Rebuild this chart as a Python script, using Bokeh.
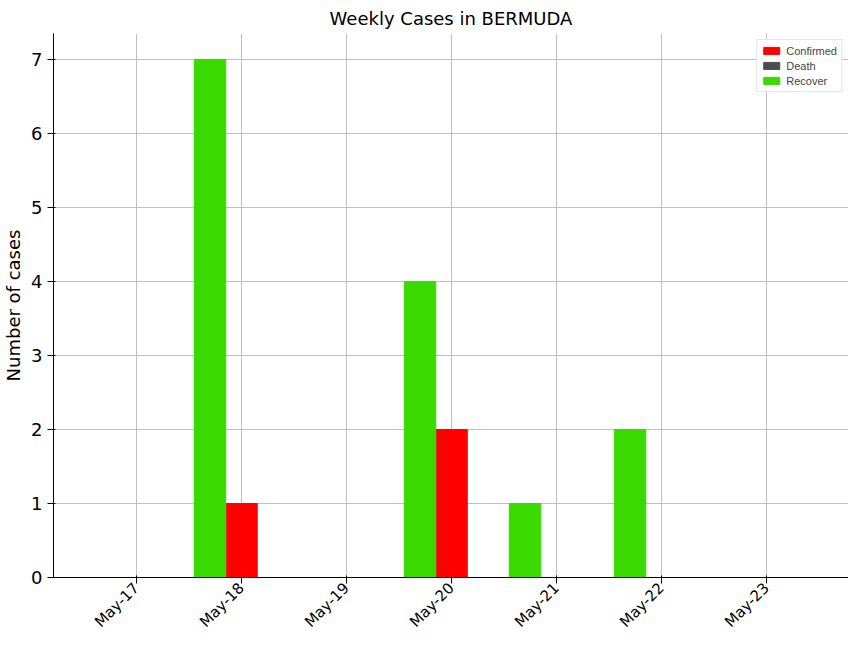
from bokeh.plotting import figure
from bokeh.models import ColumnDataSource, FixedTicker, Range1d
from bokeh.embed import file_html
from bokeh.resources import INLINE

weeks = ["May-17", "May-18", "May-19", "May-20", "May-21", "May-22", "May-23"]
confirmed = [0, 1, 0, 2, 0, 0, 0]
death = [0, 0, 0, 0, 0, 0, 0]
recover = [0, 7, 0, 4, 1, 2, 0]

w = 0.3
idx = list(range(len(weeks)))
src = ColumnDataSource(dict(
    xr=[i - w for i in idx], xc=idx, xd=[i + w for i in idx],
    recover=recover, confirmed=confirmed, death=death))

p = figure(width=848, height=640, output_backend="svg", toolbar_location=None,
           x_range=Range1d(-0.79, 6.78), y_range=Range1d(0, 7.35),
           min_border_left=0, min_border_right=0, min_border_top=21, min_border_bottom=0)
p.title.text = "Weekly Cases in BERMUDA"
p.title.align = "center"
p.title.text_font_size = "18px"
p.title.text_font_style = "normal"
p.title.text_font = "DejaVu Sans"
p.title.text_color = "black"

p.vbar(x="xc", top="confirmed", width=w, source=src, color="#ff0000", legend_label="Confirmed")
p.vbar(x="xd", top="death", width=w, source=src, color="#4d4d4d", legend_label="Death")
p.vbar(x="xr", top="recover", width=w, source=src, color="#3ad900", legend_label="Recover")

p.xaxis.ticker = FixedTicker(ticks=idx)
p.xaxis.major_label_overrides = {i: s for i, s in enumerate(weeks)}
p.xaxis.major_label_orientation = 0.785
p.xaxis.major_label_standoff = 2
p.xaxis.major_label_text_font_size = "15px"
p.yaxis.major_label_text_font_size = "18px"
p.yaxis.ticker = FixedTicker(ticks=list(range(8)))
p.yaxis.axis_label = "Number of cases"
p.yaxis.axis_label_standoff = 4
for ax in (p.xaxis, p.yaxis):
    ax.major_label_text_font = "DejaVu Sans"
    ax.major_label_text_color = "black"
    ax.axis_label_text_font_size = "18px"
    ax.axis_label_text_font_style = "normal"
    ax.axis_label_text_font = "DejaVu Sans"
    ax.axis_label_text_color = "black"
    ax.minor_tick_line_color = None
    ax.axis_line_color = "black"
    ax.major_tick_line_color = "black"
p.grid.grid_line_color = "#b0b0b0"
p.grid.grid_line_alpha = 0.8
p.outline_line_color = None

p.legend.location = "top_right"
p.legend.label_text_font_size = "11px"
p.legend.glyph_height = 9
p.legend.glyph_width = 20
p.legend.spacing = 2
p.legend.padding = 4
p.legend.label_height = 13
p.legend.margin = 6
p.legend.border_line_color = "#cccccc"

open("out.html", "w").write(file_html(p, INLINE))
